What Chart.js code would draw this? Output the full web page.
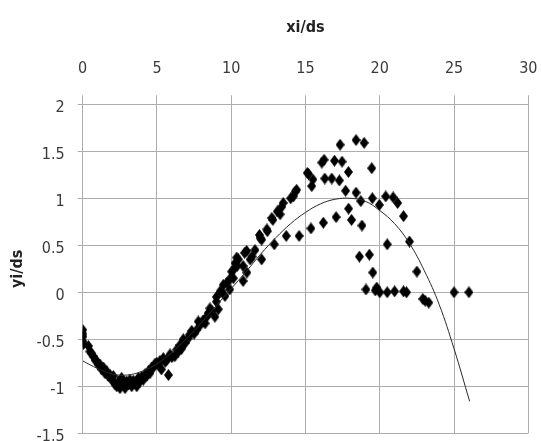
<!DOCTYPE html>
<html>
<head>
<meta charset="utf-8">
<script src="https://cdn.jsdelivr.net/npm/chart.js@4.4.1/dist/chart.umd.min.js"></script>
<style>
  html, body { margin: 0; padding: 0; background: #fff; overflow: hidden; }
  #wrap { width: 541px; height: 441px; overflow: hidden; }
</style>
</head>
<body>
<div id="wrap"><canvas id="myChart" width="541" height="450"></canvas></div>
<script>
// measured points (xi/ds, yi/ds)
const xi = [
  0.0, 0.0, 0.02, 0.0, 0.05, 0.38, 0.49, 0.6, 0.71, 0.83, 0.94, 1.05, 1.17, 1.28, 1.39, 1.5,
  1.62, 1.72, 1.85, 1.95, 2.06, 2.18, 2.29, 2.4, 2.51, 2.62, 2.73, 2.85, 2.95, 3.07, 3.18, 3.3,
  3.41, 3.52, 3.64, 3.75, 3.86, 3.97, 4.08, 4.2, 4.31, 4.42, 4.53, 4.64, 4.75, 4.87, 4.98, 5.1,
  5.2, 5.3, 5.43, 5.55, 5.66, 5.77, 5.88, 6.0, 6.2, 6.33, 6.45, 6.55, 6.66, 6.77, 6.9, 7.1,
  7.2, 7.34, 7.5, 7.68, 7.78, 7.9, 8.1, 8.24, 8.35, 8.46, 8.57, 8.7, 8.9, 9.0, 9.0, 9.13,
  9.25, 9.36, 9.47, 9.58, 9.7, 9.9, 9.9, 10.03, 10.14, 10.15, 10.26, 10.37, 10.4, 10.48, 10.8, 10.8,
  10.9, 11.04, 11.05, 11.27, 11.4, 11.6, 11.9, 11.94, 12.05, 12.05, 12.4, 12.43, 12.73, 12.8, 12.9, 13.1,
  13.29, 13.4, 13.5, 13.7, 14.0, 14.18, 14.3, 14.4, 14.57, 15.12, 15.2, 15.37, 15.42, 15.5,
  16.1, 16.25, 16.2, 16.3, 16.77, 16.95, 17.06, 17.28, 17.33, 17.46, 17.7, 17.89, 17.9, 18.1, 18.4, 18.4,
  18.63, 18.72, 18.8, 18.95, 19.07, 19.3, 19.46, 19.5, 19.53, 19.7, 19.8, 19.97, 20.0, 20.4, 20.5, 20.5,
  20.9, 21.0, 21.2, 21.6, 21.6, 21.8, 22.0, 22.5, 22.9, 23.05, 23.3, 25.0, 26.0
];
const yi = [
  -0.40, -0.44, -0.47, -0.52, -0.55, -0.57, -0.63, -0.65, -0.68, -0.72, -0.73, -0.77, -0.77, -0.82, -0.80, -0.86,
  -0.84, -0.89, -0.88, -0.93, -0.89, -0.98, -1.0, -0.95, -1.02, -0.91, -0.98, -1.02, -0.95, -0.98, -0.93, -1.0,
  -0.94, -0.96, -1.0, -0.91, -0.95, -0.90, -0.93, -0.87, -0.89, -0.84, -0.86, -0.80, -0.80, -0.76, -0.75, -0.77,
  -0.73, -0.82, -0.70, -0.74, -0.72, -0.88, -0.66, -0.69, -0.68, -0.61, -0.63, -0.56, -0.60, -0.50, -0.54, -0.49,
  -0.45, -0.41, -0.44, -0.40, -0.31, -0.35, -0.30, -0.33, -0.26, -0.22, -0.17, -0.20, -0.26, -0.05, -0.10, -0.18,
  0.01, 0.01, 0.08, -0.04, 0.10, 0.03, 0.14, 0.22, 0.15, 0.24, 0.31, 0.37, 0.28, 0.35, 0.28, 0.12,
  0.42, 0.44, 0.21, 0.35, 0.38, 0.45, 0.61, 0.58, 0.35, 0.56, 0.67, 0.65, 0.79, 0.77, 0.51, 0.86,
  0.83, 0.91, 0.95, 0.60, 1.0, 1.02, 1.07, 1.09, 0.60, 1.27, 1.26, 0.68, 1.13, 1.20,
  1.38, 1.41, 0.74, 1.21, 1.21, 1.40, 0.80, 1.19, 1.57, 1.39, 1.08, 1.28, 0.89, 0.77, 1.62, 1.06,
  0.38, 0.97, 0.71, 1.59, 0.03, 0.40, 1.32, 1.0, 0.21, 0.02, 0.05, 0.93, 0.0, 1.02, 0.51, 0.0,
  1.01, 0.01, 0.95, 0.81, 0.01, 0.0, 0.54, 0.22, -0.07, -0.09, -0.11, 0.0, 0.0
];

// trend line
const trendX = [0, 1, 2, 3, 4, 5, 6, 7, 8, 9, 10, 11, 12, 13, 14, 15, 16, 17, 18, 19, 20, 21, 22, 23, 24, 25, 26.05];
const trendY = [-0.73, -0.81, -0.87, -0.88, -0.84, -0.76, -0.64, -0.49, -0.32, -0.14, 0.04, 0.22, 0.41, 0.58, 0.73, 0.85, 0.94, 0.99, 1.0, 0.97, 0.87, 0.73, 0.52, 0.23, -0.13, -0.60, -1.16];

const xTicks = [0, 5, 10, 15, 20, 25, 30];
const yTicks = [-1.5, -1, -0.5, 0, 0.5, 1, 1.5, 2];

const fontName = "'Liberation Sans Narrow', 'DejaVu Sans Condensed', 'Liberation Sans', sans-serif";
const gridColor = "#adadad";
const textColor = "#3a3a3a";

// tall diamond marker
const marker = document.createElement("canvas");
marker.width = 9;
marker.height = 12;
const mctx = marker.getContext("2d");
mctx.fillStyle = "#000";
mctx.beginPath();
mctx.moveTo(4.5, 0);
mctx.lineTo(9, 6);
mctx.lineTo(4.5, 12);
mctx.lineTo(0, 6);
mctx.closePath();
mctx.fill();

const points = xi.map((x, i) => ({ x: x, y: yi[i] }));
const trend = trendX.map((x, i) => ({ x: x, y: trendY[i] }));

const ctx = document.getElementById("myChart").getContext("2d");
new Chart(ctx, {
  type: "scatter",
  data: {
    datasets: [
      {
        type: "line",
        label: "trend",
        data: trend,
        borderColor: "#2a2a2a",
        borderWidth: 1,
        pointRadius: 0,
        fill: false,
        tension: 0.4
      },
      {
        label: "points",
        data: points,
        pointStyle: marker,
        pointRadius: 5,
        backgroundColor: "#000",
        borderColor: "#000"
      }
    ]
  },
  options: {
    responsive: false,
    animation: false,
    layout: { padding: { left: 0, right: 12.7, top: 0, bottom: 16.7 } },
    plugins: { legend: { display: false }, tooltip: { enabled: false } },
    scales: {
      x: {
        type: "linear",
        position: "top",
        min: 0,
        max: 30,
        afterBuildTicks: (s) => { s.ticks = xTicks.map((v) => ({ value: v })); },
        afterFit: (s) => {
          s.height = 104.3;
          s.paddingLeft = 0;
          s.paddingRight = 0;
        },
        ticks: {
          color: textColor,
          padding: 17,
          font: { family: fontName, size: 16 },
          callback: (v) => String(v)
        },
        grid: { color: gridColor, tickLength: 9, lineWidth: 1 },
        border: { color: gridColor },
        title: {
          display: true,
          text: "xi/ds",
          color: "#222",
          font: { family: fontName, size: 16, weight: "bold" },
          padding: { top: 18.5, bottom: 0 }
        }
      },
      y: {
        type: "linear",
        min: -1.5,
        max: 2,
        afterBuildTicks: (s) => { s.ticks = yTicks.map((v) => ({ value: v })); },
        afterFit: (s) => {
          s.width = 82.7;
          s.paddingTop = 0;
          s.paddingBottom = 0;
        },
        ticks: {
          color: textColor,
          padding: 13,
          labelOffset: 4,
          font: { family: fontName, size: 16 },
          callback: (v) => String(v)
        },
        grid: { color: gridColor, tickLength: 5, lineWidth: 1 },
        border: { color: gridColor },
        title: {
          display: true,
          text: "yi/ds",
          color: "#222",
          font: { family: fontName, size: 16, weight: "bold" },
          padding: { top: 8.4, bottom: 0 }
        }
      }
    }
  }
});
</script>
</body>
</html>
